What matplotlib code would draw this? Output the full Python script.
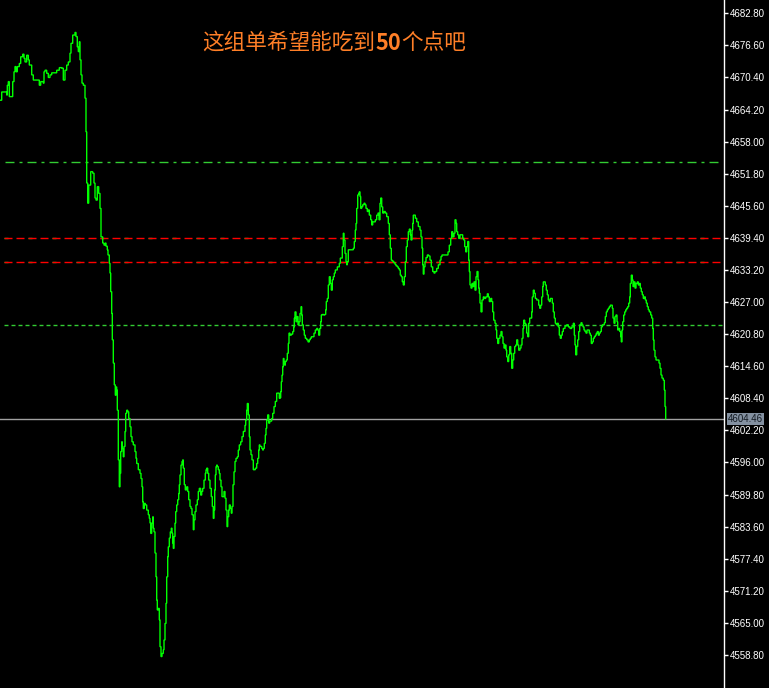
import matplotlib
matplotlib.use("Agg")
import matplotlib.pyplot as plt
import matplotlib.transforms as mtransforms

# ---------------- data ----------------
t = [0,1.7,5,6.7,7.3,8.3,9.3,11.7,12.7,14,15,16,17.3,19.3,20.7,22.7,24,25,26.7,28.3,29.3,31.7,33.3,36.7,39.3,40.7,43.3,44,45,46.7,48.3,50,51.7,55,56.7,59.3,61.7,63.3,65,66.7,68.3,70,71,72.7,75,76,77.3,78.3,79.3,80,81,82,83.3,85,86,86.7,87.7,88.7,90.7,92.7,94,95,96,97.3,98.7,
     100,101,102.7,104,105.3,106,107.3,108,109.3,110,110.7,111.7,112.3,113.3,114.3,115.3,116,116.7,117.3,118.3,119.3,120,120.7,121.7,122.3,123.3,124,125,125.7,126.7,127.7,128.7,130,131,132,133.3,135,136,136.7,138.3,140,141,142,142.7,143.3,144.3,145.3,146.7,148.3,149.3,150,150.7,151.7,152.7,153.3,154,155,156,156.7,157.3,158.3,159.3,160,161,162,163.3,164,165,166,166.7,167.7,168.3,169.3,170.3,171.3,172,172.7,173.3,174,175,175.7,176.7,177.7,178.7,179.3,180,181,182,182.7,183.3,184.3,185.3,186.7,187.7,188.7,190,191,192,193.3,194,195,196,197.3,198.3,199.3,200.7,201.7,202.7,204,205.3,206,206.7,207.7,208.7,210,211.3,212.3,213.3,214,214.7,215.3,216,216.7,217.3,218.3,219.3,220,221,222,223.3,224,225,226,227,227.7,228.7,229.3,230.3,231.3,232,233,234,235,236,237.3,238.3,239.3,240.7,242,243.3,245,245.7,246.7,247.3,248.3,249.3,250,251,252,253.3,254.3,255.3,256.7,257.7,258.7,259.3,260,261.7,262.7,263.3,264.3,265.3,266,266.7,267.7,268.7,269.7,271.7,272.7,274,275.3,276.7,278,279.3,280,
     280.7,281.3,282,282.7,283.3,284,284.7,285.3,286.3,287.3,288.3,289,290,291.3,292.7,293.7,294.3,295,296,297,298,299,300,301,301.7,302.3,303.3,304.3,305.3,306.7,308,309.3,310.3,311.3,312.7,314,315.3,316.7,317.7,318.7,319.7,320.7,321.3,322.3,323.7,324.7,325.7,326.3,327.3,
     328.3,329.3,330.3,331.3,332.3,333.3,334.3,335.3,337.3,339.3,340.3,341.3,342.3,343.3,344,345,346,346.7,347.3,348.3,350.7,352.3,353.3,354.3,355.3,356,356.7,357.7,358.7,359.3,360,360.7,361.7,362.7,364,365,366,367.3,368.3,369.3,370.7,371.7,372.7,374,375.3,376.7,378,379,380,380.7,381.7,382.7,384,385.3,386.7,388.3,389.3,390.3,391.3,392.3,393.7,395,396,397.3,398.3,399.3,400.3,401.3,402.3,403.3,404.3,405.3,406.3,407.3,408.3,409.3,410.3,411,412,412.7,413.3,414.3,415.3,416.7,418.3,420,421,422,422.7,423.3,424,425,426,427.3,428.7,430,431.3,432.7,434,435,436.7,438.3,440,441,442,446.7,448,449.3,450.7,451.7,452.7,454,455,456,456.7,457.7,458.7,460,461.3,462.7,463.7,464.7,465.7,466.7,467.7,468.7,469.3,470,471,472,473,474,475,476,477,478,478.7,479.3,
     480,481,482,483.3,484.3,485.7,487.3,488.3,489.3,490.7,491.7,492.7,493.7,495,496,496.7,497.7,498.7,500,501,502,503,504,505,506,506.7,507.7,508.7,509.7,510.7,511.7,512.7,513.7,514.7,515.7,516.7,517.7,518.7,520,521,522,523,523.7,524.7,525.7,526.7,527.7,528.7,529.7,530.7,531.7,532.3,533.3,534.3,535.3,536.7,537.7,538.7,539.7,540.7,541.7,542.7,543.3,544.3,545.3,546.3,547.3,548.3,549.3,550.3,551.3,552.3,553.3,554.3,555.3,556.3,557.3,558.3,559.3,560.3,561.3,562.3,563.3,565,566.7,568.3,570,571.7,573.3,574.3,575,575.7,576.7,577.7,578.7,579.7,581,582,583,584,585,586,587,588.3,589.3,590.3,591.3,592.3,593.3,594.3,595.3,596.3,597.3,598.3,599.3,600.3,601.3,602.3,603.3,604.3,605.3,606.3,607.3,608.3,609.3,610.3,611.3,612.3,613,614,615,616,617,617.7,618.7,619.7,620.7,621.3,622,622.7,623.7,624.7,625.7,626.7,627.7,628.7,629.7,630.3,631.3,632.3,633,634,635,636,637.3,638.3,639.3,640.3,641.3,642.3,643.3,644.3,645.3,646.3,647.3,648.3,649.3,650.7,651.7,652.7,653.3,654,655,656,657.7,659,660,661,662,663.3,664.3,665,665.7]

price = [4666.0,4667.6,4667.6,4667.0,4668.9,4669.6,4666.7,4666.7,4669.6,4671.5,4672.5,4671.5,4672.5,4673.1,4674.4,4674.9,4674.1,4673.4,4674.7,4673.8,4672.8,4670.9,4669.9,4669.9,4668.9,4669.6,4669.3,4671.5,4671.8,4671.2,4670.4,4670.9,4671.3,4671.3,4671.8,4672.3,4672.2,4669.9,4671.8,4672.8,4673.4,4675.1,4677.0,4678.6,4679.1,4678.3,4676.3,4675.4,4677.3,4673.8,4670.9,4669.3,4668.9,4666.4,4659.9,4650.0,4646.1,4649.6,4652.2,4651.9,4650.0,4647.1,4646.7,4649.3,4648.0,
         4645.1,4639.6,4638.4,4638.0,4638.4,4637.8,4637.1,4636.1,4634.5,4632.6,4629.0,4624.8,4619.7,4615.2,4611.0,4609.0,4610.6,4610.0,4606.1,4596.5,4591.3,4593.9,4598.1,4600.0,4598.7,4597.1,4599.1,4602.0,4605.5,4606.1,4605.8,4604.5,4602.9,4601.0,4600.0,4599.4,4598.1,4596.8,4595.8,4594.6,4593.9,4592.9,4591.3,4588.4,4587.1,4588.1,4587.8,4586.8,4585.9,4585.2,4584.3,4582.3,4584.3,4585.5,4583.3,4582.6,4578.5,4573.9,4569.4,4567.5,4567.8,4565.6,4560.4,4558.5,4559.1,4559.8,4561.7,4564.9,4568.8,4573.9,4577.8,4579.7,4581.4,4582.6,4583.3,4582.3,4580.4,4579.4,4581.7,4584.3,4586.5,4587.8,4588.8,4590.0,4591.7,4593.6,4595.5,4596.2,4596.5,4594.9,4591.7,4590.7,4591.3,4590.4,4588.8,4587.5,4587.1,4585.9,4583.0,4584.9,4586.5,4587.8,4588.8,4590.4,4591.0,4589.7,4590.4,4591.0,4592.6,4593.9,4594.6,4594.9,4593.9,4592.6,4591.0,4589.4,4587.5,4585.2,4586.8,4590.7,4593.6,4595.2,4595.5,4595.2,4594.6,4593.9,4592.6,4591.3,4589.4,4589.4,4590.4,4589.1,4586.8,4583.6,4585.5,4586.8,4587.8,4587.1,4586.2,4587.5,4591.7,4594.2,4596.2,4596.8,4597.1,4598.4,4599.4,4600.0,4601.0,4602.0,4603.2,4604.2,4606.1,4607.4,4605.2,4601.0,4598.4,4597.5,4596.5,4594.6,4594.6,4594.9,4595.8,4596.8,4598.4,4599.4,4599.1,4598.7,4598.4,4598.7,4599.7,4601.3,4602.6,4604.2,4605.2,4603.6,4604.0,4604.5,4605.5,4606.8,4607.8,4609.4,4609.4,4608.4,4608.5,
         4609.7,4611.6,4612.9,4614.5,4616.1,4615.5,4614.8,4615.5,4615.8,4617.1,4619.0,4621.0,4620.6,4620.8,4621.3,4622.2,4623.9,4625.1,4623.2,4624.2,4622.6,4623.2,4624.8,4626.1,4624.5,4622.6,4621.6,4620.6,4620.0,4619.7,4619.3,4619.7,4620.0,4620.3,4620.3,4621.0,4621.6,4621.9,4621.6,4620.6,4621.9,4623.2,4624.5,4624.6,4624.5,4624.6,4625.5,4627.1,4627.7,
         4630.3,4631.9,4630.6,4629.3,4631.3,4631.9,4632.6,4633.2,4633.8,4634.5,4635.5,4635.5,4637.7,4640.3,4639.0,4636.4,4634.8,4634.2,4634.8,4637.1,4637.1,4637.1,4637.4,4638.7,4640.9,4642.2,4645.1,4647.7,4648.0,4648.3,4647.4,4645.1,4645.4,4645.8,4646.1,4645.8,4645.1,4644.5,4644.8,4643.8,4642.9,4641.9,4642.5,4642.5,4642.9,4643.8,4644.2,4642.9,4646.1,4647.1,4645.4,4644.2,4644.5,4644.2,4643.5,4642.2,4640.0,4637.4,4635.1,4634.9,4634.6,4634.3,4634.0,4633.8,4633.5,4633.2,4632.2,4631.9,4630.9,4630.3,4631.9,4634.8,4637.7,4639.0,4640.6,4641.1,4640.0,4639.0,4640.9,4642.2,4643.8,4643.8,4643.2,4642.5,4641.6,4640.9,4639.6,4637.4,4634.2,4632.4,4633.8,4634.8,4635.6,4636.1,4635.9,4635.1,4633.8,4632.9,4632.6,4632.9,4633.5,4634.2,4635.1,4635.8,4636.1,4636.1,4636.7,4638.0,4639.3,4640.6,4639.6,4640.3,4642.9,4642.2,4640.6,4640.0,4639.3,4640.0,4640.0,4639.3,4639.0,4637.7,4636.7,4637.7,4638.7,4635.1,4632.9,4630.3,4629.7,4630.6,4630.0,4630.9,4629.3,4631.9,4632.9,4631.3,4629.7,4628.7,
         4626.8,4625.1,4627.4,4628.0,4627.7,4628.0,4628.6,4628.0,4627.1,4627.7,4627.1,4625.1,4623.5,4622.9,4621.6,4620.0,4619.0,4620.0,4620.6,4621.3,4620.3,4619.0,4618.1,4618.7,4617.7,4616.4,4615.5,4616.8,4618.4,4617.1,4614.2,4615.8,4617.1,4618.4,4618.7,4619.7,4618.7,4617.7,4618.1,4618.7,4620.0,4621.9,4623.5,4622.9,4622.6,4621.0,4620.3,4622.9,4623.9,4623.9,4625.1,4628.0,4629.3,4628.7,4627.7,4627.4,4627.4,4626.4,4625.8,4626.4,4628.0,4630.0,4630.9,4630.9,4630.3,4629.3,4628.4,4627.4,4627.1,4627.7,4627.7,4626.8,4625.1,4623.9,4622.9,4622.6,4622.9,4622.2,4620.6,4620.0,4620.6,4621.3,4621.9,4622.4,4622.6,4622.2,4621.9,4622.2,4622.9,4620.6,4618.7,4616.8,4618.4,4619.7,4621.3,4622.6,4623.0,4622.6,4622.2,4621.6,4621.3,4621.0,4621.6,4621.6,4621.0,4620.6,4619.0,4619.3,4620.0,4620.3,4620.6,4621.0,4621.3,4620.6,4621.0,4621.3,4622.2,4622.6,4622.6,4623.0,4624.2,4625.1,4625.5,4625.8,4626.1,4626.4,4626.4,4625.8,4623.9,4622.9,4624.2,4624.5,4623.2,4621.6,4621.9,4621.3,4620.3,4619.3,4621.6,4623.2,4624.5,4625.1,4625.5,4625.8,4626.1,4626.8,4628.0,4630.6,4632.2,4631.3,4630.0,4630.9,4629.7,4630.6,4630.9,4630.3,4630.6,4629.7,4629.0,4628.4,4627.7,4628.0,4627.4,4626.8,4626.1,4625.5,4625.1,4624.5,4623.9,4621.9,4619.7,4617.7,4616.4,4615.8,4615.8,4615.2,4614.2,4612.9,4612.3,4611.9,4610.0,4606.8,4604.46]

last_price = 4604.46
level_dashdot = 4654.0
level_red_1 = 4639.4
level_red_2 = 4634.7
level_green = 4622.5
tick_values = [4558.80, 4565.00, 4571.20, 4577.40, 4583.60, 4589.80, 4596.00, 4602.20,
               4608.40, 4614.60, 4620.80, 4627.00, 4633.20, 4639.40, 4645.60, 4651.80,
               4658.00, 4664.20, 4670.40, 4676.60, 4682.80]
title_parts = [("这组单希望能吃到", "normal"), ("50", "bold"), ("个点吧", "normal")]

# ---------------- figure ----------------
W, H = 769, 688
fig = plt.figure(figsize=(W / 100, H / 100), dpi=100, facecolor="black")
ax = fig.add_axes([0, 0, 724 / W, 1])
ax.set_facecolor("black")
ax.set_xlim(0, 724)
ax.set_ylim(4552.42, 4685.37)

px = 0.72  # points per pixel

# horizontal levels
ax.axhline(level_dashdot, xmin=5 / 724, xmax=718 / 724, color="#33cc33", lw=1.0,
           dashes=(9 * px, 5 * px, 3 * px, 5 * px))
for lv in (level_red_1, level_red_2):
    ax.axhline(lv, xmin=0.005, xmax=1, color="#33cc33", lw=1.0, dashes=(4 * px, 20 * px))
    ax.axhline(lv, xmin=0.005, xmax=1, color="#ff0000", lw=1.0, dashes=(8 * px, 4 * px))
ax.axhline(level_green, xmin=0.005, xmax=1, color="#33cc33", lw=1.0, dashes=(4 * px, 3 * px))
ax.axhline(last_price, color="#a0a0a0", lw=1.0)

# price line
ax.plot(t, price, color="#00ff00", lw=1.0, drawstyle="steps-post", solid_joinstyle="miter")

# axes styling
for s in ("top", "left", "bottom"):
    ax.spines[s].set_visible(False)
ax.spines["right"].set_color("white")
ax.spines["right"].set_linewidth(1.0)
ax.set_xticks([])
ax.yaxis.tick_right()
ax.set_yticks(tick_values)
ax.set_yticklabels([f"{v:.2f}" for v in tick_values])
ax.tick_params(axis="y", colors="white", length=4 * px, width=1.0, pad=1.5,
               labelsize=7.0, direction="out")
for lab in ax.get_yticklabels():
    lab.set_fontfamily("Liberation Sans")

# last price tag
trans = mtransforms.blended_transform_factory(ax.transAxes, ax.transData)
ax.text(1 + 4 / 724, last_price, f"{last_price:.2f}", transform=trans,
        ha="left", va="center", fontsize=7.0, family="Liberation Sans", color="#111820",
        bbox=dict(boxstyle="square,pad=0.12", fc="#8390a0", ec="none"), clip_on=False)

# title, laid out piece by piece (CJK regular, digits bold)
renderer = fig.canvas.get_renderer()
fam = ["Noto Sans CJK SC", "DejaVu Sans"]
pieces = []
for s, w in title_parts:
    tx = fig.text(0, 1 - 43 / H, s, color="#ff7f27", fontsize=15.6, fontweight=w,
                  ha="left", va="center", family=fam)
    pieces.append(tx)
widths = [p.get_window_extent(renderer).width for p in pieces]
total = sum(widths)
x0 = 334 - total / 2
for p, wdt in zip(pieces, widths):
    p.set_x(x0 / W)
    x0 += wdt

fig.savefig("out.png", dpi=100, facecolor="black")
